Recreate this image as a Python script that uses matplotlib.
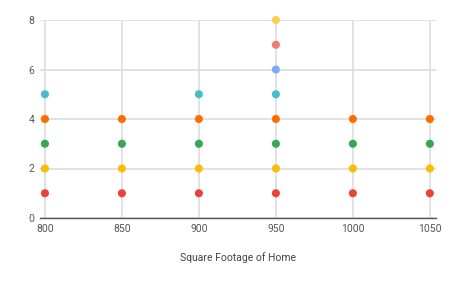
import matplotlib.pyplot as plt

plt.rcParams['font.family'] = ['Roboto', 'DejaVu Sans']

# x positions (square footage) and one series per y-level
sqft = [800, 850, 900, 950, 1000, 1050]
series_y = [
    ([800, 850, 900, 950, 1000, 1050], [1, 1, 1, 1, 1, 1]),
    ([800, 850, 900, 950, 1000, 1050], [2, 2, 2, 2, 2, 2]),
    ([800, 850, 900, 950, 1000, 1050], [3, 3, 3, 3, 3, 3]),
    ([800, 850, 900, 950, 1000, 1050], [4, 4, 4, 4, 4, 4]),
    ([800, 900, 950], [5, 5, 5]),
    ([950], [6]),
    ([950], [7]),
    ([950], [8]),
]
colors = ['#ea4335', '#fbbc04', '#34a853', '#ff6d01',
          '#46bdc6', '#7baaf7', '#f07b72', '#fcd04f']
y_ticks = [0, 2, 4, 6, 8]

fig = plt.figure(figsize=(4.5, 2.81), dpi=100)
ax = fig.add_axes([40 / 450, 1 - 218 / 281, 396 / 450, 198 / 281])

for (xs, ys), c in zip(series_y, colors):
    ax.scatter(xs, ys, s=34, color=c, edgecolors='none', zorder=3,
               clip_on=False)

ax.set_xlim(796.8, 1054)
ax.set_ylim(0, 8)
ax.set_xticks(sqft)
ax.set_yticks(y_ticks)
ax.grid(True, color='#dddddd', linewidth=1.2)
ax.set_axisbelow(True)
for side in ['top', 'right', 'left']:
    ax.spines[side].set_visible(False)
ax.spines['bottom'].set_color('#555555')
ax.spines['bottom'].set_linewidth(1)
ax.tick_params(length=0, labelsize=7.5, colors='#555555', pad=4)
ax.set_xlabel('Square Footage of Home', fontsize=7.5, color='#444444',
              labelpad=13)

fig.savefig('out.png', dpi=100)
